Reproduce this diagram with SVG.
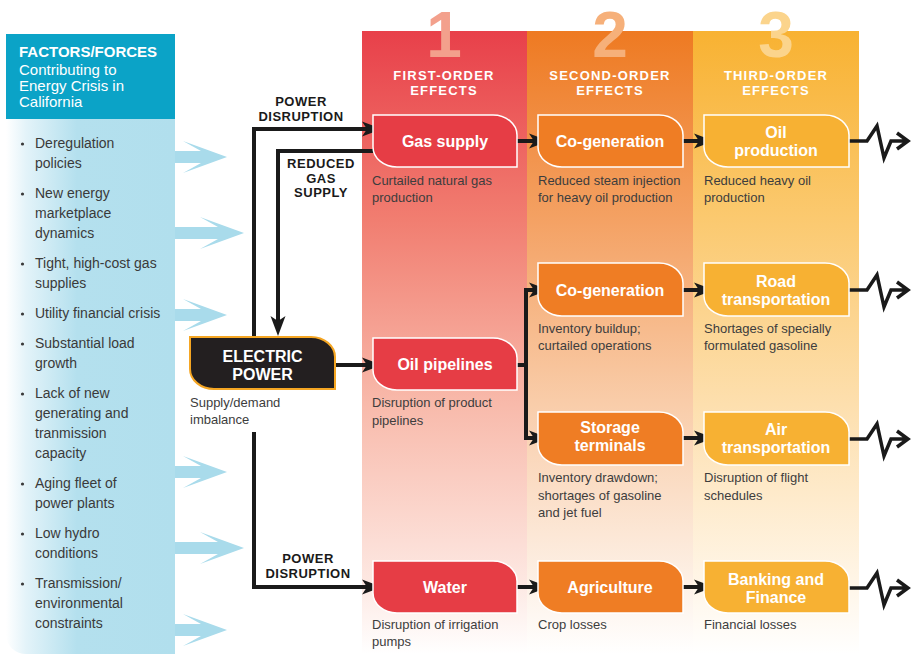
<svg xmlns="http://www.w3.org/2000/svg" width="911" height="654" viewBox="0 0 911 654">
<defs>
<linearGradient id="gPanel" x1="0" y1="0" x2="1" y2="0">
<stop offset="0" stop-color="#ffffff"/>
<stop offset="0.12" stop-color="#e3f3f9"/>
<stop offset="0.42" stop-color="#b4e0ee"/>
<stop offset="1" stop-color="#b1dfed"/>
</linearGradient>
<linearGradient id="gC1" x1="0" y1="0" x2="0" y2="1">
<stop offset="0" stop-color="#e8404a"/>
<stop offset="0.3" stop-color="#f17d70"/>
<stop offset="0.6" stop-color="#f8baab"/>
<stop offset="0.88" stop-color="#fde7e1"/>
<stop offset="1" stop-color="#ffffff"/>
</linearGradient>
<linearGradient id="gC2" x1="0" y1="0" x2="0" y2="1">
<stop offset="0" stop-color="#ee7a22"/>
<stop offset="0.3" stop-color="#f4a163"/>
<stop offset="0.6" stop-color="#f9cdaa"/>
<stop offset="0.88" stop-color="#fdf0e5"/>
<stop offset="1" stop-color="#ffffff"/>
</linearGradient>
<linearGradient id="gC3" x1="0" y1="0" x2="0" y2="1">
<stop offset="0" stop-color="#f8b232"/>
<stop offset="0.3" stop-color="#fbc96f"/>
<stop offset="0.6" stop-color="#fddfae"/>
<stop offset="0.88" stop-color="#fff5e6"/>
<stop offset="1" stop-color="#ffffff"/>
</linearGradient>
<marker id="ah" markerUnits="userSpaceOnUse" markerWidth="22" markerHeight="18" viewBox="0 -9 22 18" refX="12" refY="0" orient="auto">
<path d="M0,-7.5 L20,0 L0,7.5 L5,0 Z" fill="#1a1a1a"/>
</marker>
<path id="zz" d="M0,0 H18 L28,-15 L35,17 L42,0 H58 M48,-8 L59,0 L48,8" fill="none" stroke="#1a1a1a" stroke-width="3.5" stroke-linejoin="miter"/>
</defs>
<style>
text{font-family:"Liberation Sans",Arial,sans-serif}
.bul{font-size:14px;fill:#3a3a3a}
.desc{font-size:13px;fill:#3d3d3d}
.bt{font-size:16px;font-weight:bold;fill:#ffffff;text-anchor:middle}
.hd{font-size:13px;font-weight:bold;fill:#ffffff;text-anchor:middle;letter-spacing:1.2px}
.num{font-size:64px;font-weight:bold;text-anchor:middle}
.lbl{font-size:13px;font-weight:bold;fill:#1a1a1a;text-anchor:middle;letter-spacing:0.5px}
.conn{fill:none;stroke:#1a1a1a;stroke-width:4}
.barrow{fill:#a9dbeb}
.b1{fill:#e63d45;stroke:#ffffff;stroke-width:1.5}
.b2{fill:#ef7d24;stroke:#ffffff;stroke-width:1.5}
.b3{fill:#f7b133;stroke:#ffffff;stroke-width:1.5}
</style>
<rect width="911" height="654" fill="#ffffff"/>

<g id="columns">
<rect x="362" y="31" width="166" height="623" fill="url(#gC1)"/>
<rect x="527" y="31" width="166" height="623" fill="url(#gC2)"/>
<rect x="693" y="31" width="166" height="623" fill="url(#gC3)"/>
<text class="num" x="444" y="57" fill="#f3a08c">1</text>
<text class="num" x="610" y="57" fill="#f6b07a">2</text>
<text class="num" x="776" y="57" fill="#fbd48c">3</text>
<text class="hd" x="444" y="80">FIRST-ORDER</text>
<text class="hd" x="444" y="95">EFFECTS</text>
<text class="hd" x="610" y="80">SECOND-ORDER</text>
<text class="hd" x="610" y="95">EFFECTS</text>
<text class="hd" x="776" y="80">THIRD-ORDER</text>
<text class="hd" x="776" y="95">EFFECTS</text>
</g>

<g id="factors">
<path d="M6,119 H175 V654 H26 A20,20 0 0 1 6,634 Z" fill="url(#gPanel)"/>
<rect x="6" y="34" width="169" height="85" fill="#0ba3c7"/>
<text x="19" y="57" font-size="15" font-weight="bold" fill="#ffffff">FACTORS/FORCES</text>
<text x="19" y="75" font-size="15" fill="#ffffff">Contributing to</text>
<text x="19" y="91" font-size="15" fill="#ffffff">Energy Crisis in</text>
<text x="19" y="107" font-size="15" fill="#ffffff">California</text>
<g fill="#3a3a3a">
<circle cx="22.5" cy="144" r="1.6"/><circle cx="22.5" cy="194" r="1.6"/><circle cx="22.5" cy="264" r="1.6"/>
<circle cx="22.5" cy="314" r="1.6"/><circle cx="22.5" cy="344" r="1.6"/><circle cx="22.5" cy="394" r="1.6"/>
<circle cx="22.5" cy="484" r="1.6"/><circle cx="22.5" cy="534" r="1.6"/><circle cx="22.5" cy="584" r="1.6"/>
</g>
<text class="bul" x="35" y="148">Deregulation</text>
<text class="bul" x="35" y="168">policies</text>
<text class="bul" x="35" y="198">New energy</text>
<text class="bul" x="35" y="218">marketplace</text>
<text class="bul" x="35" y="238">dynamics</text>
<text class="bul" x="35" y="268">Tight, high-cost gas</text>
<text class="bul" x="35" y="288">supplies</text>
<text class="bul" x="35" y="318">Utility financial crisis</text>
<text class="bul" x="35" y="348">Substantial load</text>
<text class="bul" x="35" y="368">growth</text>
<text class="bul" x="35" y="398">Lack of new</text>
<text class="bul" x="35" y="418">generating and</text>
<text class="bul" x="35" y="438">tranmission</text>
<text class="bul" x="35" y="458">capacity</text>
<text class="bul" x="35" y="488">Aging fleet of</text>
<text class="bul" x="35" y="508">power plants</text>
<text class="bul" x="35" y="538">Low hydro</text>
<text class="bul" x="35" y="558">conditions</text>
<text class="bul" x="35" y="588">Transmission/</text>
<text class="bul" x="35" y="608">environmental</text>
<text class="bul" x="35" y="628">constraints</text>
<polygon class="barrow" points="175,151 201,151 183,141 227,157 183,173 201,163 175,163"/>
<polygon class="barrow" points="175,227 218,227 200,217 244,233 200,249 218,239 175,239"/>
<polygon class="barrow" points="175,309 201,309 183,299 227,315 183,331 201,321 175,321"/>
<polygon class="barrow" points="175,466 201,466 183,456 227,472 183,488 201,478 175,478"/>
<polygon class="barrow" points="175,542 218,542 200,532 244,548 200,564 218,554 175,554"/>
<polygon class="barrow" points="175,624 201,624 183,614 227,630 183,646 201,636 175,636"/>
</g>

<g id="connectors">
<path class="conn" d="M254,337 V129 H374" marker-end="url(#ah)"/>
<path class="conn" d="M373,151 H278 V328" marker-end="url(#ah)"/>
<path class="conn" d="M335,365 H374" marker-end="url(#ah)"/>
<path class="conn" d="M254,432 V587 H374" marker-end="url(#ah)"/>
<path class="conn" d="M517,141 H541" marker-end="url(#ah)"/>
<path class="conn" d="M683,141 H706" marker-end="url(#ah)"/>
<path class="conn" d="M517,365 H526"/>
<path class="conn" d="M526,290 V438"/>
<path class="conn" d="M524,290 H541" marker-end="url(#ah)"/>
<path class="conn" d="M524,438 H541" marker-end="url(#ah)"/>
<path class="conn" d="M683,290 H706" marker-end="url(#ah)"/>
<path class="conn" d="M683,438 H706" marker-end="url(#ah)"/>
<path class="conn" d="M517,587 H541" marker-end="url(#ah)"/>
<path class="conn" d="M683,587 H706" marker-end="url(#ah)"/>
<use href="#zz" x="849" y="141"/>
<use href="#zz" x="849" y="290"/>
<use href="#zz" x="849" y="439"/>
<use href="#zz" x="849" y="588"/>
<text class="lbl" x="301" y="106">POWER</text>
<text class="lbl" x="301" y="121">DISRUPTION</text>
<text class="lbl" x="321" y="168">REDUCED</text>
<text class="lbl" x="321" y="183">GAS</text>
<text class="lbl" x="321" y="197">SUPPLY</text>
<text class="lbl" x="308" y="563">POWER</text>
<text class="lbl" x="308" y="578">DISRUPTION</text>
</g>

<g id="electric-power">
<path d="M190,337 H311 A24,20 0 0 1 335,357 V389 H214 A24,20 0 0 1 190,369 Z" fill="#231f20" stroke="#f5a623" stroke-width="2"/>
<text x="262.5" y="362" font-size="16" font-weight="bold" fill="#ffffff" text-anchor="middle">ELECTRIC</text>
<text x="262.5" y="380" font-size="16" font-weight="bold" fill="#ffffff" text-anchor="middle">POWER</text>
<text class="desc" x="190" y="407">Supply/demand</text>
<text class="desc" x="190" y="424">imbalance</text>
</g>

<g id="gas-supply">
<path class="b1" d="M373,115 H493 A24,20 0 0 1 517,135 V167 H397 A24,20 0 0 1 373,147 Z"/>
<text class="bt" x="445" y="147">Gas supply</text>
<text class="desc" x="372" y="185">Curtailed natural gas</text>
<text class="desc" x="372" y="202">production</text>
</g>
<g id="oil-pipelines">
<path class="b1" d="M373,338 H493 A24,20 0 0 1 517,358 V390 H397 A24,20 0 0 1 373,370 Z"/>
<text class="bt" x="445" y="370">Oil pipelines</text>
<text class="desc" x="372" y="407">Disruption of product</text>
<text class="desc" x="372" y="425">pipelines</text>
</g>
<g id="water">
<path class="b1" d="M373,561 H493 A24,20 0 0 1 517,581 V613 H397 A24,20 0 0 1 373,593 Z"/>
<text class="bt" x="445" y="593">Water</text>
<text class="desc" x="372" y="629">Disruption of irrigation</text>
<text class="desc" x="372" y="646">pumps</text>
</g>

<g id="co-generation-1">
<path class="b2" d="M538,115 H659 A24,20 0 0 1 683,135 V167 H562 A24,20 0 0 1 538,147 Z"/>
<text class="bt" x="610" y="147">Co-generation</text>
<text class="desc" x="538" y="185">Reduced steam injection</text>
<text class="desc" x="538" y="202">for heavy oil production</text>
</g>
<g id="co-generation-2">
<path class="b2" d="M538,263 H659 A24,20 0 0 1 683,283 V316 H562 A24,20 0 0 1 538,296 Z"/>
<text class="bt" x="610" y="296">Co-generation</text>
<text class="desc" x="538" y="333">Inventory buildup;</text>
<text class="desc" x="538" y="350">curtailed operations</text>
</g>
<g id="storage-terminals">
<path class="b2" d="M538,412 H659 A24,20 0 0 1 683,432 V465 H562 A24,20 0 0 1 538,445 Z"/>
<text class="bt" x="610" y="433">Storage</text>
<text class="bt" x="610" y="451">terminals</text>
<text class="desc" x="538" y="482">Inventory drawdown;</text>
<text class="desc" x="538" y="500">shortages of gasoline</text>
<text class="desc" x="538" y="517">and jet fuel</text>
</g>
<g id="agriculture">
<path class="b2" d="M538,561 H659 A24,20 0 0 1 683,581 V613 H562 A24,20 0 0 1 538,593 Z"/>
<text class="bt" x="610" y="593">Agriculture</text>
<text class="desc" x="538" y="629">Crop losses</text>
</g>

<g id="oil-production">
<path class="b3" d="M704,115 H825 A24,20 0 0 1 849,135 V167 H728 A24,20 0 0 1 704,147 Z"/>
<text class="bt" x="776" y="138">Oil</text>
<text class="bt" x="776" y="156">production</text>
<text class="desc" x="704" y="185">Reduced heavy oil</text>
<text class="desc" x="704" y="202">production</text>
</g>
<g id="road-transportation">
<path class="b3" d="M704,263 H825 A24,20 0 0 1 849,283 V316 H728 A24,20 0 0 1 704,296 Z"/>
<text class="bt" x="776" y="287">Road</text>
<text class="bt" x="776" y="305">transportation</text>
<text class="desc" x="704" y="333">Shortages of specially</text>
<text class="desc" x="704" y="350">formulated gasoline</text>
</g>
<g id="air-transportation">
<path class="b3" d="M704,412 H825 A24,20 0 0 1 849,432 V465 H728 A24,20 0 0 1 704,445 Z"/>
<text class="bt" x="776" y="435">Air</text>
<text class="bt" x="776" y="453">transportation</text>
<text class="desc" x="704" y="482">Disruption of flight</text>
<text class="desc" x="704" y="500">schedules</text>
</g>
<g id="banking-finance">
<path class="b3" d="M704,561 H825 A24,20 0 0 1 849,581 V613 H728 A24,20 0 0 1 704,593 Z"/>
<text class="bt" x="776" y="585">Banking and</text>
<text class="bt" x="776" y="603">Finance</text>
<text class="desc" x="704" y="629">Financial losses</text>
</g>
</svg>
